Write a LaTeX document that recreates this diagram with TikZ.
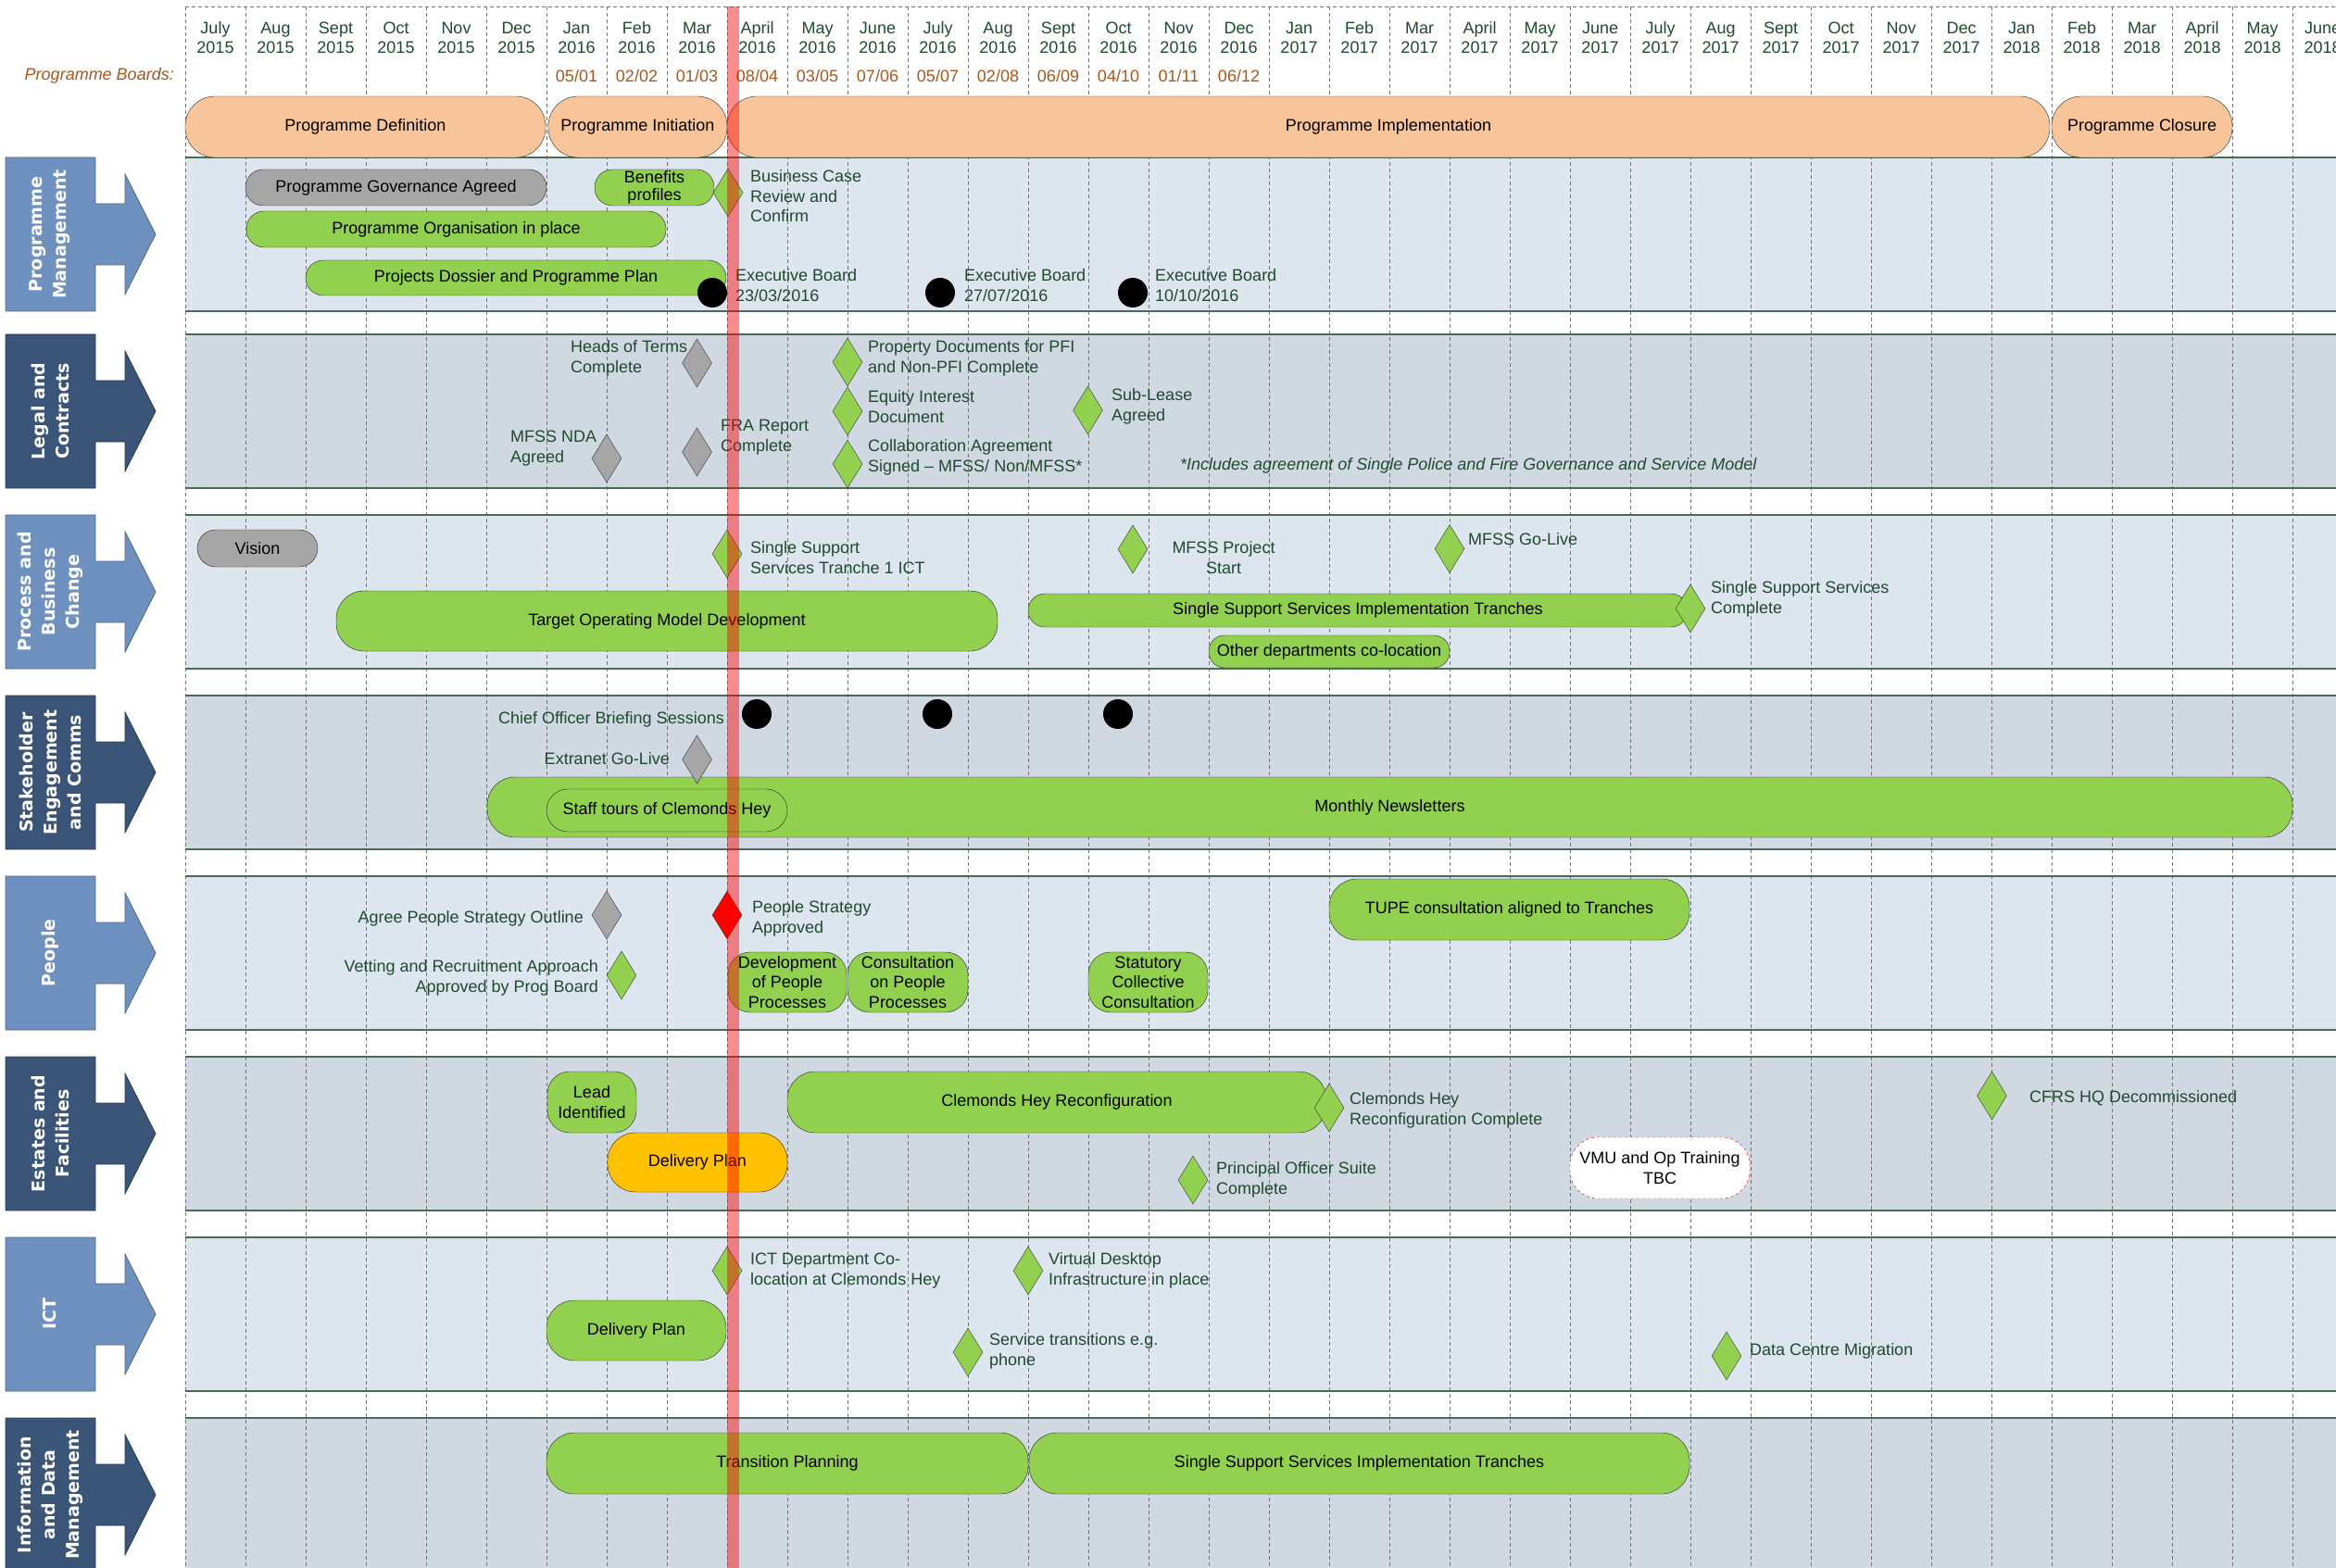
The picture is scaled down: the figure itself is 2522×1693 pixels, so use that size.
\documentclass[tikz,border=0pt]{standalone}
\usepackage{fontspec}
\setmainfont{Liberation Sans}
\newfontfamily\lanefam{DejaVu Sans}
\usepackage{xcolor}
\usetikzlibrary{shapes.geometric}

\definecolor{barGreen}{HTML}{92D050}
\definecolor{barGrey}{HTML}{A6A6A6}
\definecolor{barOrange}{HTML}{FFC000}
\definecolor{phasePeach}{HTML}{F8C59B}
\definecolor{laneLight}{HTML}{DDE5EF}
\definecolor{laneDark}{HTML}{D0D8E1}
\definecolor{arrowLight}{HTML}{6F91BF}
\definecolor{arrowDark}{HTML}{3A5577}
\definecolor{laneEdge}{HTML}{4A6A58}
\definecolor{noteGreen}{HTML}{1F4A2E}
\definecolor{boardBrown}{HTML}{A9561C}

\newcommand{\barfont}{\fontsize{18}{21.5}\selectfont}
\newcommand{\lanefont}{\lanefam\bfseries\fontsize{19}{26}\selectfont}

\begin{document}
\begin{tikzpicture}[
    x=1pt, y=-1pt,
    sz/.style 2 args={minimum width=#1pt, minimum height=#2pt},
    phase/.style={draw=black!85, fill=phasePeach, rounded corners=32pt, inner sep=0pt, font=\barfont},
    pill/.style={draw=black!85, fill=barGreen, rounded corners=#1, inner sep=0pt, align=center, font=\barfont},
    pill/.default=30pt,
    ms/.style={diamond, draw=black!80, fill=barGreen, minimum width=32pt, minimum height=52pt, inner sep=0pt},
    board/.style={circle, fill=black, minimum size=32pt, inner sep=0pt},
    lbl/.style={text=noteGreen, align=left, anchor=west, inner sep=0pt, font=\barfont},
    lblr/.style={text=noteGreen, align=right, anchor=east, inner sep=0pt, font=\barfont},
    month/.style={text=noteGreen, align=center, inner sep=0pt, font=\fontsize{18}{21}\selectfont},
    lanetxt/.style={text=white, rotate=90, align=center, inner sep=0pt, font=\lanefont},
    gridline/.style={gray!90!black, line width=0.7pt, dash pattern=on 4pt off 3pt}
]
    \useasboundingbox[fill=white] (0,0) rectangle (2522,1693);

    % swimlanes
    \foreach \t/\fc in {170/laneLight,361/laneDark,556/laneLight,751/laneDark,946/laneLight,1141/laneDark,1336/laneLight,1531/laneDark}
        \fill[\fc] (200,\t) rectangle (2522,{\t+166});
    \draw[gridline] (200,7) -- (2522,7);
    \foreach \i in {0,...,35}
        \draw[gridline] ({200+65*\i},7) -- ({200+65*\i},1693);
    \foreach \t in {170,361,556,751,946,1141,1336,1531} {
        \draw[laneEdge, line width=1.8pt] (200,\t) -- (2522,\t);
        \draw[laneEdge, line width=1.8pt] (200,{\t+166}) -- (2522,{\t+166});
    }

    % lane arrows
    \foreach \t/\ac in {170/arrowLight,361/arrowDark,556/arrowLight,751/arrowDark,946/arrowLight,1141/arrowDark,1336/arrowLight,1531/arrowDark}
        \draw[fill=\ac, draw=\ac!70!black, line width=0.8pt] (6,\t) -- (103,\t) -- (103,{\t+50}) -- (135,{\t+50}) -- (135,{\t+18})
            -- (168,{\t+83}) -- (135,{\t+148}) -- (135,{\t+116}) -- (103,{\t+116}) -- (103,{\t+166}) -- (6,{\t+166}) -- cycle;
    \node[lanetxt] (lnPM) at (54,253) {Programme\\Management};
    \node[lanetxt] (lnLC) at (54,444) {Legal and\\Contracts};
    \node[lanetxt] (lnPB) at (54,639) {Process and\\Business\\Change};
    \node[lanetxt] (lnSE) at (54,834) {Stakeholder\\Engagement\\and Comms};
    \node[lanetxt] (lnPE) at (54,1029) {People};
    \node[lanetxt] (lnEF) at (54,1224) {Estates and\\Facilities};
    \node[lanetxt] (lnIC) at (54,1419) {ICT};
    \node[lanetxt] (lnID) at (54,1614) {Information\\and Data\\Management};

    % header
    \foreach \mon/\yr [count=\i from 0] in {July/2015,Aug/2015,Sept/2015,Oct/2015,Nov/2015,Dec/2015,Jan/2016,Feb/2016,Mar/2016,April/2016,May/2016,June/2016,July/2016,Aug/2016,Sept/2016,Oct/2016,Nov/2016,Dec/2016,Jan/2017,Feb/2017,Mar/2017,April/2017,May/2017,June/2017,July/2017,Aug/2017,Sept/2017,Oct/2017,Nov/2017,Dec/2017,Jan/2018,Feb/2018,Mar/2018,April/2018,May/2018,June/2018}
        \node[month] (m\i) at ({232.5+65*\i},41) {\mon\\\yr};
    \node[text=boardBrown, anchor=east, inner sep=0pt, font=\barfont\itshape] (boards) at (188,82) {Programme Boards:};
    \foreach \d [count=\i from 6] in {05/01,02/02,01/03,08/04,03/05,07/06,05/07,02/08,06/09,04/10,01/11,06/12}
        \node[text=boardBrown, inner sep=0pt, font=\barfont] (bd\i) at ({232.5+65*\i},82) {\d};

    \node[phase, sz={389}{66}] (pdef) at (394.5,137) {Programme Definition};
    \node[phase, sz={193}{66}] (pinit) at (688.5,137) {Programme Initiation};
    \node[phase, sz={1428}{66}] (pimpl) at (1499,137) {Programme Implementation};
    \node[phase, sz={195}{66}] (pclos) at (2312.5,137) {Programme Closure};

    % Programme Management
    \node[pill=19pt, fill=barGrey, sz={325}{39}] (govagr) at (427.5,202.5) {Programme Governance Agreed};
    \node[pill=19pt, sz={129}{39}, font=\fontsize{18}{19}\selectfont] (benefits) at (706.5,202.5) {Benefits\\profiles};
    \node[pill=19pt, sz={453}{39}] (orgplace) at (492.5,247.5) {Programme Organisation in place};
    \node[pill=19pt, sz={454}{38}] (dossier) at (557,300) {Projects Dossier and Programme Plan};
    \node[ms] (msBusCase) at (786,208) {};
    \node[lbl] (lbBusCase) at (810,212) {Business Case\\Review and\\Confirm};
    \node[board] (eb1) at (769,316) {};
    \node[lbl] (lbEb1) at (794,308) {Executive Board\\23/03/2016};
    \node[board] (eb2) at (1015,316) {};
    \node[lbl] (lbEb2) at (1041,308) {Executive Board\\27/07/2016};
    \node[board] (eb3) at (1223,316) {};
    \node[lbl] (lbEb3) at (1247,308) {Executive Board\\10/10/2016};

    % Legal and Contracts
    \node[lbl] (lbHeads) at (616,387) {Heads of Terms\\Complete};
    \node[ms, fill=barGrey] (msHeads) at (752.5,392) {};
    \node[ms, fill=barGrey] (msNda) at (655,495) {};
    \node[lbl] (lbNda) at (551,484) {MFSS NDA\\Agreed};
    \node[ms, fill=barGrey] (msFra) at (752.5,488) {};
    \node[lbl] (lbFra) at (778,472) {FRA Report\\Complete};
    \node[ms] (msProp) at (915,391) {};
    \node[lbl] (lbProp) at (937,387) {Property Documents for PFI\\and Non-PFI Complete};
    \node[ms] (msEquity) at (915,444) {};
    \node[lbl] (lbEquity) at (937,439) {Equity Interest\\Document};
    \node[ms] (msCollab) at (915,501) {};
    \node[lbl] (lbCollab) at (937,494) {Collaboration Agreement\\Signed – MFSS/ Non/MFSS*};
    \node[ms] (msSublease) at (1174.5,443) {};
    \node[lbl] (lbSublease) at (1200,439) {Sub-Lease\\Agreed};
    \node[lbl, font=\barfont\itshape] (lbNote) at (1274,503) {*Includes agreement of Single Police and Fire Governance and Service Model};

    % Process and Business Change
    \node[pill=20pt, fill=barGrey, sz={130}{40}] (vision) at (278,592) {Vision};
    \node[ms] (msTranche1) at (785,598) {};
    \node[lbl] (lbTranche1) at (810,602) {Single Support\\Services Tranche 1 ICT};
    \node[pill, sz={714}{65}] (tom) at (720,670.5) {Target Operating Model Development};
    \node[pill=18pt, sz={712}{36}] (sssTr) at (1466,659) {Single Support Services Implementation Tranches};
    \node[ms] (msSssDone) at (1825,657) {};
    \node[lbl] (lbSssDone) at (1847,647) {Single Support Services\\Complete};
    \node[ms] (msMfssStart) at (1223,593) {};
    \node[lbl, anchor=center, align=center] (lbMfssStart) at (1321,602) {MFSS Project\\Start};
    \node[ms] (msGoLive) at (1565,592.5) {};
    \node[lbl] (lbGoLive) at (1585,582) {MFSS Go-Live};
    \node[pill=17pt, sz={260}{35}] (otherDept) at (1435,703.5) {Other departments co-location};

    % Stakeholder Engagement and Comms
    \node[board] (brief1) at (817,771) {};
    \node[board] (brief2) at (1012,771) {};
    \node[board] (brief3) at (1207,771) {};
    \node[lblr] (lbBrief) at (782,777) {Chief Officer Briefing Sessions};
    \node[pill, sz={1949}{65}] (news) at (1500.5,871.5) {Monthly Newsletters};
    \node[pill=23pt, sz={260}{46}] (tours) at (720,875) {Staff tours of Clemonds Hey};
    \node[ms, fill=barGrey] (msExtranet) at (752.5,820) {};
    \node[lblr] (lbExtranet) at (723,819) {Extranet Go-Live};

    % People
    \node[ms, fill=barGrey] (msAgree) at (655,988) {};
    \node[lblr] (lbAgree) at (630,992) {Agree People Strategy Outline};
    \node[ms, fill=red] (msApproved) at (785,988) {};
    \node[lbl] (lbApproved) at (812,992) {People Strategy\\Approved};
    \node[ms] (msVetting) at (671,1053) {};
    \node[lblr] (lbVetting) at (646,1056) {Vetting and Recruitment Approach\\Approved by Prog Board};
    \node[pill=24pt, sz={128}{65}] (devPeople) at (850,1060.5) {Development\\of People\\Processes};
    \node[pill=24pt, sz={130}{65}] (consult) at (980,1060.5) {Consultation\\on People\\Processes};
    \node[pill=24pt, sz={129}{65}] (statutory) at (1239.5,1060.5) {Statutory\\Collective\\Consultation};
    \node[pill, sz={389}{66}] (tupe) at (1629.5,982) {TUPE consultation aligned to Tranches};

    % Estates and Facilities
    \node[pill=24pt, sz={96}{66}] (lead) at (639,1190) {Lead\\Identified};
    \node[pill, fill=barOrange, sz={194}{64}] (delivEst) at (753,1255) {Delivery Plan};
    \node[pill, sz={582}{66}] (clemonds) at (1141,1190) {Clemonds Hey Reconfiguration};
    \node[ms] (msClemDone) at (1435,1196) {};
    \node[lbl] (lbClemDone) at (1457,1199) {Clemonds Hey\\Reconfiguration Complete};
    \node[ms] (msPrincipal) at (1288,1274) {};
    \node[lbl] (lbPrincipal) at (1313,1274) {Principal Officer Suite\\Complete};
    \node[pill, fill=white, draw=red!85!black, dashed, sz={194}{66}] (vmu) at (1792,1261) {VMU and Op Training\\TBC};
    \node[ms] (msCfrs) at (2150.5,1183) {};
    \node[lbl] (lbCfrs) at (2191,1186) {CFRS HQ Decommissioned};

    % ICT
    \node[ms] (msColoc) at (785,1372) {};
    \node[lbl] (lbColoc) at (810,1372) {ICT Department Co-\\location at Clemonds Hey};
    \node[ms] (msVdi) at (1110,1372) {};
    \node[lbl] (lbVdi) at (1132,1372) {Virtual Desktop\\Infrastructure in place};
    \node[pill, sz={194}{65}] (delivIct) at (687,1436.5) {Delivery Plan};
    \node[ms] (msService) at (1045,1460) {};
    \node[lbl] (lbService) at (1068,1459) {Service transitions e.g.\\phone};
    \node[ms] (msDataCentre) at (1864,1464) {};
    \node[lbl] (lbDataCentre) at (1889,1459) {Data Centre Migration};

    % Information and Data Management
    \node[pill, sz={520}{66}] (transition) at (850,1580) {Transition Planning};
    \node[pill, sz={713}{66}] (sssTr2) at (1467.5,1580) {Single Support Services Implementation Tranches};

    % today line
    \fill[red, opacity=0.45] (785,7) rectangle (798,1693);
\end{tikzpicture}
\end{document}
